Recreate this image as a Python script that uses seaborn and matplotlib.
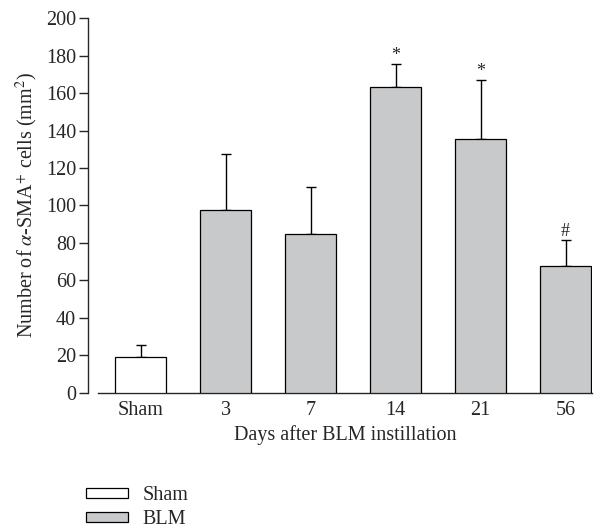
"""Bar chart of alpha-SMA+ cell counts after BLM instillation."""
import matplotlib
matplotlib.use("Agg")
import matplotlib.pyplot as plt
from matplotlib.patches import Patch
import numpy as np
import pandas as pd
import seaborn as sns

# Data
groups = ["Sham", "3", "7", "14", "21", "56"]
treatment = ["Sham", "BLM", "BLM", "BLM", "BLM", "BLM"]
means = [19.2, 97.3, 84.6, 163.1, 135.6, 67.7]
errors = [6.3, 30.0, 25.4, 12.5, 31.6, 13.7]
marks = ["", "", "", "*", "*", "#"]

colors = {"Sham": "white", "BLM": "#c8c9cb"}
FS = 14.5

sns.set_style("ticks")
plt.rcParams["font.family"] = ["Liberation Serif", "DejaVu Serif"]
plt.rcParams["mathtext.fontset"] = "stix"
plt.rcParams["font.size"] = FS

df = pd.DataFrame({"group": groups, "treatment": treatment, "value": means})

fig = plt.figure(figsize=(5.98, 5.31), dpi=100)
ax = fig.add_axes([98 / 598, 1 - 392.5 / 531, 494 / 598, 374.2 / 531])

sns.barplot(data=df, x="group", y="value", hue="treatment", palette=colors,
            order=groups, dodge=False, width=0.6, edgecolor="black",
            linewidth=0.9, legend=False, errorbar=None, ax=ax, zorder=3)

x = np.arange(len(groups))
ax.errorbar(x, means, yerr=[np.zeros(len(means)), errors], fmt="none",
            ecolor="black", elinewidth=1.0, capsize=3.5, capthick=1.0,
            zorder=2)

for xi, m, e, s in zip(x, means, errors, marks):
    if s:
        ax.text(xi, m + e + 4.5, s, ha="center", va="center", fontsize=13)

ax.set_xlim(-0.5, 5.31)
ax.set_ylim(0, 200)
ax.set_yticks(np.arange(0, 201, 20))
ax.set_xlabel("Days after BLM instillation", labelpad=3.5)
ax.set_ylabel(r"Number of $\alpha$-SMA$^{+}$ cells (mm$^{2}$)", labelpad=4)

sns.despine(ax=ax)
ax.spines["left"].set_position(("outward", 7.2))
ax.spines["left"].set_linewidth(1.0)
ax.spines["bottom"].set_linewidth(1.0)
ax.tick_params(axis="x", length=0, pad=6, labelsize=FS)
ax.tick_params(axis="y", length=6.5, width=1.0, pad=2, labelsize=FS)

handles = [Patch(facecolor=colors[k], edgecolor="black", linewidth=0.9, label=k)
           for k in ["Sham", "BLM"]]
fig.legend(handles=handles, loc="upper left",
           bbox_to_anchor=(86 / 598, 1 - 486 / 531), frameon=False,
           handlelength=2.1, handleheight=0.35, labelspacing=0.25,
           handletextpad=0.7, borderpad=0, borderaxespad=0, fontsize=FS)

fig.savefig("out.png", dpi=100)
